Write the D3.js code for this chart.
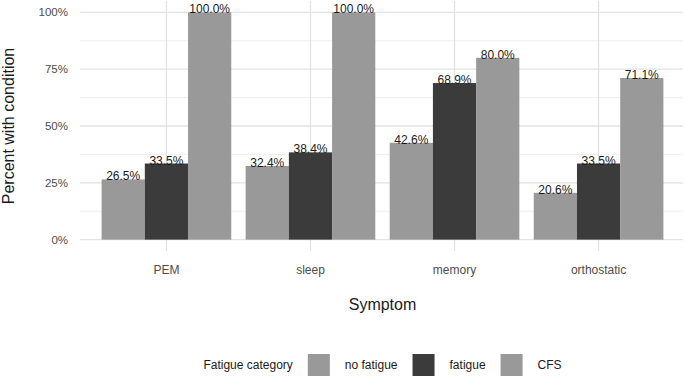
<!DOCTYPE html>
<html>
<head>
<meta charset="utf-8">
<script src="https://cdn.jsdelivr.net/npm/d3@7"></script>
<style>
  body { margin: 0; background: #fff; }
  svg { display: block; font-family: "Liberation Sans", Arial, sans-serif; }
</style>
</head>
<body>
<svg id="main" width="685" height="378"></svg>
<script>
// chart data
var symptoms = ["PEM", "sleep", "memory", "orthostatic"];
var groups = ["no fatigue", "fatigue", "CFS"];
var noFatigue = [0.265, 0.324, 0.426, 0.206];
var fatigue = [0.335, 0.384, 0.689, 0.335];
var cfs = [1.0, 1.0, 0.8, 0.711];
var yTicks = [0, 0.25, 0.5, 0.75, 1];

var colors = { "no fatigue": "#999999", "fatigue": "#3b3b3b", "CFS": "#999999" };

var svg = d3.select("#main");

var panel = { left: 80, right: 685, top: 1, bottom: 251 };

// ggplot style expansion: 0.6 step on each side of the discrete axis
var x = d3.scaleBand()
  .domain(symptoms)
  .range([panel.left, panel.right])
  .paddingInner(0.1)
  .paddingOuter(0.15);

var xSub = d3.scaleBand()
  .domain(groups)
  .range([0, x.bandwidth()]);

var y = d3.scaleLinear()
  .domain([-0.05, 1.05])
  .range([panel.bottom, panel.top]);

var rows = [];
symptoms.forEach(function(s, i) {
  rows.push({ symptom: s, group: "no fatigue", value: noFatigue[i] });
  rows.push({ symptom: s, group: "fatigue", value: fatigue[i] });
  rows.push({ symptom: s, group: "CFS", value: cfs[i] });
});

// grid
var grid = svg.append("g").attr("class", "grid");
var minor = [0.125, 0.375, 0.625, 0.875];
grid.selectAll("line.minor")
  .data(minor)
  .enter()
  .append("line")
  .attr("x1", panel.left).attr("x2", panel.right - 2)
  .attr("y1", function(d) { return y(d); })
  .attr("y2", function(d) { return y(d); })
  .attr("stroke", "#efefef")
  .attr("stroke-width", 1);

grid.selectAll("line.major")
  .data(yTicks)
  .enter()
  .append("line")
  .attr("x1", panel.left).attr("x2", panel.right - 2)
  .attr("y1", function(d) { return y(d); })
  .attr("y2", function(d) { return y(d); })
  .attr("stroke", "#e2e2e2")
  .attr("stroke-width", 1.3);

grid.selectAll("line.vert")
  .data(symptoms)
  .enter()
  .append("line")
  .attr("x1", function(d) { return x(d) + x.bandwidth() / 2; })
  .attr("x2", function(d) { return x(d) + x.bandwidth() / 2; })
  .attr("y1", panel.top).attr("y2", panel.bottom)
  .attr("stroke", "#e2e2e2")
  .attr("stroke-width", 1.3);

// bars
svg.append("g")
  .selectAll("rect")
  .data(rows)
  .enter()
  .append("rect")
  .attr("x", function(d) { return x(d.symptom) + xSub(d.group); })
  .attr("width", xSub.bandwidth())
  .attr("y", function(d) { return y(d.value); })
  .attr("height", function(d) { return y(0) - y(d.value); })
  .attr("fill", function(d) { return colors[d.group]; });

// bar labels
var fmt = d3.format(".1%");
svg.append("g")
  .selectAll("text")
  .data(rows)
  .enter()
  .append("text")
  .attr("x", function(d) { return x(d.symptom) + xSub(d.group) + xSub.bandwidth() / 2; })
  .attr("y", function(d) { return y(d.value) + 1; })
  .attr("text-anchor", "middle")
  .attr("font-size", 12)
  .attr("fill", "#1a1a1a")
  .text(function(d) { return fmt(d.value); });

// y axis labels
svg.append("g")
  .selectAll("text")
  .data(yTicks)
  .enter()
  .append("text")
  .attr("x", 68)
  .attr("y", function(d) { return y(d); })
  .attr("dy", "0.35em")
  .attr("text-anchor", "end")
  .attr("font-size", 11.5)
  .attr("fill", "#4d4d4d")
  .text(d3.format(".0%"));

// x axis labels
svg.append("g")
  .selectAll("text")
  .data(symptoms)
  .enter()
  .append("text")
  .attr("x", function(d) { return x(d) + x.bandwidth() / 2; })
  .attr("y", 273.5)
  .attr("text-anchor", "middle")
  .attr("font-size", 12)
  .attr("fill", "#4d4d4d")
  .text(function(d) { return d; });

// axis titles
var midX = (panel.left + panel.right) / 2;
svg.append("text")
  .attr("x", midX)
  .attr("y", 310)
  .attr("text-anchor", "middle")
  .attr("font-size", 16)
  .attr("fill", "#1a1a1a")
  .text("Symptom");

svg.append("text")
  .attr("transform", "translate(14," + y(0.5) + ") rotate(-90)")
  .attr("text-anchor", "middle")
  .attr("font-size", 16)
  .attr("fill", "#1a1a1a")
  .text("Percent with condition");

// legend, centred under the panel
var legend = svg.append("g");
var legendY = 365;
var lx = 0;
var title = legend.append("text")
  .attr("x", lx).attr("y", legendY).attr("dy", "0.35em")
  .attr("font-size", 12).attr("fill", "#1a1a1a")
  .text("Fatigue category");
lx += title.node().getComputedTextLength() + 15;
groups.forEach(function(gname) {
  legend.append("rect")
    .attr("x", lx).attr("y", legendY - 11)
    .attr("width", 22).attr("height", 22)
    .attr("fill", colors[gname]);
  lx += 37;
  var t = legend.append("text")
    .attr("x", lx).attr("y", legendY).attr("dy", "0.35em")
    .attr("font-size", 12).attr("fill", "#1a1a1a")
    .text(gname);
  lx += t.node().getComputedTextLength() + 15;
});
lx -= 15;
legend.attr("transform", "translate(" + (midX - lx / 2) + ",0)");
</script>
</body>
</html>
